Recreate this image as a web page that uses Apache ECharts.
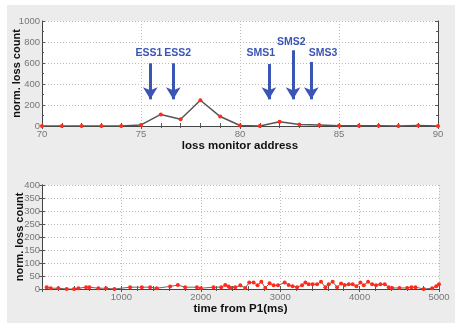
<!DOCTYPE html>
<html><head><meta charset="utf-8">
<script src="https://cdn.jsdelivr.net/npm/echarts@6/dist/echarts.min.js"></script>
<style>html,body{margin:0;padding:0;background:#fff}#c{width:455px;height:323px}</style>
</head><body><div id="c"></div>
<script>
// top panel: loss monitor address vs normalized loss count
const addresses = [70,71,72,73,74,75,76,77,78,79,80,81,82,83,84,85,86,87,88,89,90];
const addrLoss  = [0,0,0,0,0,10,110,65,245,90,5,0,40,15,10,3,3,3,0,5,0];
// annotations (data coordinates)
const annoNames  = ['ESS1','ESS2','SMS1','SMS2','SMS3'];
const annoArrowX = [75.47,76.63,81.46,82.68,83.6];
const annoArrowTop = [597,597,590,721,610];
const annoArrowBottom = [254,254,254,254,254];
const annoLabelX = [75.4,76.85,81.05,82.59,84.19];
const annoLabelY = [691,691,691,797,691];
// bottom panel: time from P1 (ms) vs normalized loss count
const timeMs = [59,110,206,311,404,458,555,597,710,807,912,1110,1257,1362,1446,1614,1711,1803,1951,2001,2160,2257,2308,2350,2371,2434,2497,2560,2610,2665,2715,2762,2812,2866,2917,2972,3056,3106,3157,3212,3275,3317,3359,3409,3464,3514,3569,3611,3661,3716,3767,3812,3863,3913,3960,4010,4052,4107,4158,4208,4262,4317,4367,4410,4502,4599,4653,4704,4808,4914,4965,5000];
const timeLoss = [7,3,3,0,0,3,7,7,3,3,0,7,7,7,3,10,15,7,7,3,7,7,15,10,4,7,14,4,25,25,14,28,4,22,14,14,25,15,11,7,14,25,18,18,18,28,7,18,28,7,21,15,18,18,11,25,14,28,18,14,18,18,7,4,4,4,7,7,0,3,11,18];

const chart = echarts.init(document.getElementById('c'));
const tickColor = '#555';
const fmt = v => String(v);
const labelStyle = {color:'#777', fontSize:9.5, fontFamily:'Liberation Sans, Arial, sans-serif', formatter:fmt};
const titleStyle = {color:'#111', fontSize:11.5, fontWeight:'bold', fontFamily:'Liberation Sans, Arial, sans-serif'};
const yTitleStyle = {color:'#111', fontSize:11, fontWeight:'bold', fontFamily:'Liberation Sans, Arial, sans-serif'};
const splitDotted = {show:true, lineStyle:{color:'#bbb', type:[1,2], width:1}};
const axisLine = {show:true, lineStyle:{color:'#444', width:1}};
const arrowColor = '#3b55b5';

function frameAxis(base){ return Object.assign({axisLine:axisLine, axisTick:{show:true,inside:true,length:3,lineStyle:{color:tickColor}}, minorTick:{show:true,splitNumber:5,length:2,lineStyle:{color:tickColor}}, axisLabel:{show:false}, splitLine:{show:false}}, base); }

const markLines = annoNames.map((n,i)=>[{coord:[annoArrowX[i],annoArrowTop[i]]},{coord:[annoArrowX[i],annoArrowBottom[i]]}]);
const markPts = annoNames.map((n,i)=>({name:n, coord:[annoLabelX[i],annoLabelY[i]]}));

chart.setOption({
  animation:false,
  backgroundColor:'#fff',
  graphic:[{type:'rect', left:7, top:5, shape:{width:448, height:318}, style:{fill:'#ececec'}, z:-10}],
  grid:[
    {left:42, top:21, width:396, height:105, backgroundColor:'#fff', show:true, borderWidth:0, containLabel:false, outerBoundsMode:'none'},
    {left:42, top:185, width:397, height:104, backgroundColor:'#fff', show:true, borderWidth:0, containLabel:false, outerBoundsMode:'none'}
  ],
  xAxis:[
    {type:'value', gridIndex:0, min:70, max:90, interval:5, position:'bottom',
     axisLine:axisLine, axisTick:{show:true,inside:true,length:3,lineStyle:{color:tickColor}},
     minorTick:{show:true,splitNumber:5,length:3,lineStyle:{color:tickColor}},
     axisLabel:Object.assign({margin:3},labelStyle), splitLine:splitDotted,
     name:'loss monitor address', nameLocation:'middle', nameGap:14, nameMoveOverlap:false, nameTextStyle:titleStyle},
    frameAxis({type:'value', gridIndex:0, min:70, max:90, interval:5, position:'top'}),
    {type:'value', gridIndex:1, min:0, max:5000, interval:1000, position:'bottom',
     axisLine:axisLine, axisTick:{show:true,inside:true,length:3,lineStyle:{color:tickColor}},
     minorTick:{show:true,splitNumber:5,length:3,lineStyle:{color:tickColor}},
     axisLabel:Object.assign({},labelStyle,{margin:3, showMinLabel:false, formatter:v=>v===0?'':String(v)}), splitLine:splitDotted,
     name:'time from P1(ms)', nameLocation:'middle', nameGap:14, nameMoveOverlap:false, nameTextStyle:titleStyle},
    frameAxis({type:'value', gridIndex:1, min:0, max:5000, interval:1000, position:'top'})
  ],
  yAxis:[
    {type:'value', gridIndex:0, min:0, max:1000, interval:200, position:'left',
     axisLine:axisLine, axisTick:{show:true,inside:true,length:3,lineStyle:{color:tickColor}},
     minorTick:{show:true,splitNumber:2,length:2,lineStyle:{color:tickColor}},
     axisLabel:Object.assign({margin:2},labelStyle), splitLine:splitDotted,
     name:'norm. loss count', nameLocation:'middle', nameGap:20, nameMoveOverlap:false, nameTextStyle:yTitleStyle},
    frameAxis({type:'value', gridIndex:0, min:0, max:1000, interval:200, position:'right', minorTick:{show:true,splitNumber:2,length:2,lineStyle:{color:tickColor}}}),
    {type:'value', gridIndex:1, min:0, max:400, interval:50, position:'left',
     axisLine:axisLine, axisTick:{show:true,inside:true,length:3,lineStyle:{color:tickColor}},
     axisLabel:Object.assign({margin:2},labelStyle), splitLine:splitDotted,
     name:'norm. loss count', nameLocation:'middle', nameGap:17, nameMoveOverlap:false, nameTextStyle:yTitleStyle},
    frameAxis({type:'value', gridIndex:1, min:0, max:400, interval:50, position:'right', minorTick:{show:false}})
  ],
  series:[
    {type:'line', xAxisIndex:0, yAxisIndex:0, data:addresses.map((a,i)=>[a,addrLoss[i]]),
     symbol:'circle', symbolSize:4, itemStyle:{color:'#ff2a1a'}, lineStyle:{color:'#555',width:1.5}, z:5,
     markLine:{silent:true, symbol:['none','arrow'], symbolSize:[11,12], label:{show:false},
       lineStyle:{color:arrowColor, width:3, type:'solid'}, data:markLines},
     markPoint:{silent:true, symbol:'circle', symbolSize:0,
       label:{show:true, formatter:'{b}', color:arrowColor, fontSize:10.5, fontWeight:'bold', fontFamily:'Liberation Sans, Arial, sans-serif'},
       data:markPts}},
    {type:'line', xAxisIndex:2, yAxisIndex:2, data:timeMs.map((t,i)=>[t,timeLoss[i]]),
     symbol:'circle', symbolSize:4, itemStyle:{color:'#ff2a1a'}, lineStyle:{color:'#666',width:1}, z:5}
  ]
});
</script></body></html>
